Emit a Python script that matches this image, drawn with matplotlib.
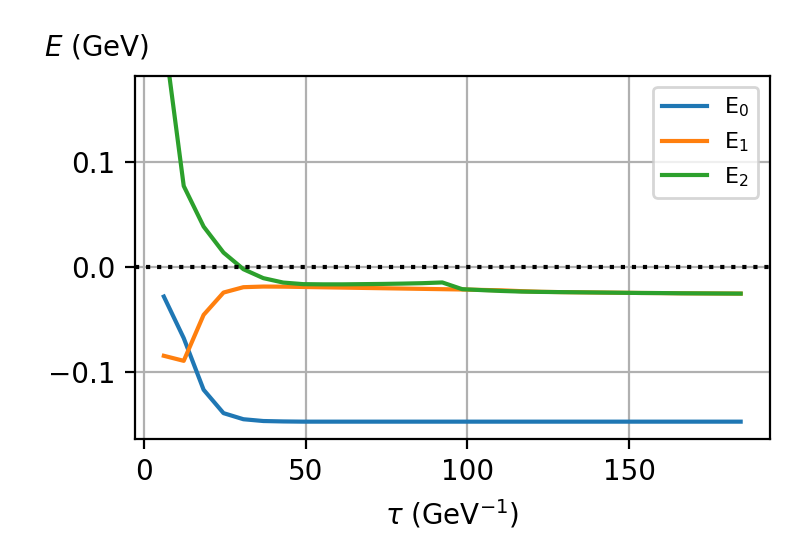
import matplotlib
matplotlib.use("Agg")
import matplotlib.pyplot as plt

tau = [6.15, 12.3, 18.45, 24.6, 30.75, 36.9, 43.05, 49.2, 55.35, 61.5,
       67.65, 73.8, 79.95, 86.1, 92.25, 98.4, 104.55, 110.7, 116.85, 123.0,
       129.15, 135.3, 141.45, 147.6, 153.75, 159.9, 166.05, 172.2, 178.35, 184.5]

E0 = [-0.0279, -0.0674, -0.1165, -0.1387, -0.1445, -0.1462, -0.1466, -0.1468, -0.1468, -0.1468,
      -0.1468, -0.1468, -0.1468, -0.1468, -0.1468, -0.1468, -0.1468, -0.1468, -0.1468, -0.1468,
      -0.1468, -0.1468, -0.1468, -0.1468, -0.1468, -0.1468, -0.1468, -0.1468, -0.1468, -0.1468]

E1 = [-0.0842, -0.0890, -0.0453, -0.0241, -0.0190, -0.0184, -0.0185, -0.0188, -0.0191, -0.0194,
      -0.0197, -0.0200, -0.0203, -0.0206, -0.0209, -0.0212, -0.0216, -0.0220, -0.0228, -0.0234,
      -0.0237, -0.0239, -0.0241, -0.0243, -0.0245, -0.0246, -0.0248, -0.0249, -0.0250, -0.0251]

E2 = [0.2220, 0.0772, 0.0386, 0.0139, -0.0019, -0.0104, -0.0146, -0.0161, -0.0163, -0.0163,
      -0.0161, -0.0159, -0.0156, -0.0152, -0.0145, -0.0209, -0.0218, -0.0226, -0.0232, -0.0235,
      -0.0237, -0.0239, -0.0241, -0.0243, -0.0245, -0.0246, -0.0248, -0.0249, -0.0250, -0.0251]

labels = [r"E$_0$", r"E$_1$", r"E$_2$"]

fig = plt.figure(figsize=(4, 2.8), dpi=200)
ax = fig.add_axes([135/800, 1 - 438.7/560, 634.5/800, 363/560])

for ys, lab in zip([E0, E1, E2], labels):
    ax.plot(tau, ys, label=lab)

ax.axhline(0, color="k", ls=":", lw=1.5)
ax.grid(True)
ax.set_ylim(-0.163, 0.182)
ax.set_yticks([-0.1, 0.0, 0.1])
ax.set_xlabel(r"$\tau$ (GeV$^{-1}$)")
ax.set_ylabel(r"$E$ (GeV)", rotation=0, ha="center", va="center")
ax.yaxis.set_label_coords(-0.06, 1.08)
ax.legend(loc="upper right", fontsize=8)

fig.savefig("out.png", dpi=200)
